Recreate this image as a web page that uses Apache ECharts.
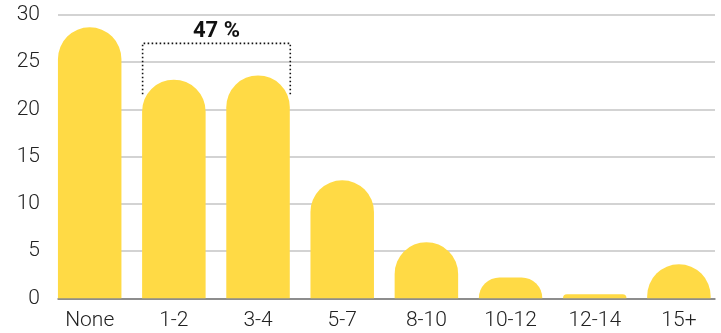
<!DOCTYPE html>
<html>
<head>
<meta charset="utf-8">
<script src="https://cdn.jsdelivr.net/npm/echarts@6/dist/echarts.min.js"></script>
<style>
html,body{margin:0;padding:0;background:#fff;}
#chart{width:721px;height:333px;}
</style>
</head>
<body>
<div id="chart"></div>
<script>
const categories = ['None', '1-2', '3-4', '5-7', '8-10', '10-12', '12-14', '15+'];
const values = [28.7, 23.15, 23.6, 12.5, 5.94, 2.2, 0.42, 3.6];
const yTicks = [0, 5, 10, 15, 20, 25, 30];
const bracketLabel = '47 %';
const bracketFrom = 1, bracketTo = 2;

const FONT = 'Roboto';
const BAR_W = 63.5;
const chart = echarts.init(document.getElementById('chart'));
chart.setOption({
  animation: false,
  grid: [
    {left: 58, right: 6, top: 15, bottom: 34.7},
    {left: 47.6, width: 674.8, top: 15, bottom: 34.7}
  ],
  xAxis: [
    {type: 'category', gridIndex: 0, data: categories,
     axisLine: {show: true, lineStyle: {color: '#777', width: 1.5}},
     axisTick: {show: false}, axisLabel: {show: false}},
    {type: 'category', gridIndex: 1, data: categories,
     axisLine: {show: false}, axisTick: {show: false},
     axisLabel: {color: '#222', fontFamily: FONT, fontSize: 21, fontWeight: 300, margin: 12}}
  ],
  yAxis: [
    {type: 'value', gridIndex: 0, min: yTicks[0], max: yTicks[yTicks.length-1], interval: 5,
     axisLine: {show: false}, axisTick: {show: false},
     axisLabel: {color: '#222', fontFamily: FONT, fontSize: 21, fontWeight: 300, margin: 18},
     splitLine: {lineStyle: {color: '#c4c4c4', width: 1.5}}},
    {type: 'value', gridIndex: 1, min: 0, max: 30, show: false, splitLine: {show: false}}
  ],
  series: [{
    type: 'bar', xAxisIndex: 1, yAxisIndex: 1, data: values,
    barWidth: BAR_W,
    itemStyle: {color: '#FFDA45', borderRadius: [32, 32, 0, 0]}
  }]
});

function drawBracket() {
  const l = chart.convertToPixel({xAxisIndex: 1, yAxisIndex: 1}, [bracketFrom, 27.0]);
  const r = chart.convertToPixel({xAxisIndex: 1, yAxisIndex: 1}, [bracketTo, 21.6]);
  const t = chart.convertToPixel({xAxisIndex: 1, yAxisIndex: 1}, [bracketFrom, 28.25]);
  const x1 = l[0] - BAR_W / 2 + 0.5, x2 = r[0] + BAR_W / 2 + 0.5;
  const yTop = l[1], yBot = r[1];
  chart.setOption({
    graphic: [
      {type: 'polyline', shape: {points: [[x1, yBot], [x1, yTop], [x2, yTop], [x2, yBot]]},
       style: {stroke: '#111', lineWidth: 1.6, lineDash: [1.6, 2.4], fill: null}, z: 10},
      {type: 'text', x: (x1 + x2) / 2, y: t[1],
       style: {text: bracketLabel, fill: '#111', font: 'bold 22px ' + FONT, align: 'center', verticalAlign: 'middle'}, z: 10}
    ]
  });
}
drawBracket();
</script>
</body>
</html>
